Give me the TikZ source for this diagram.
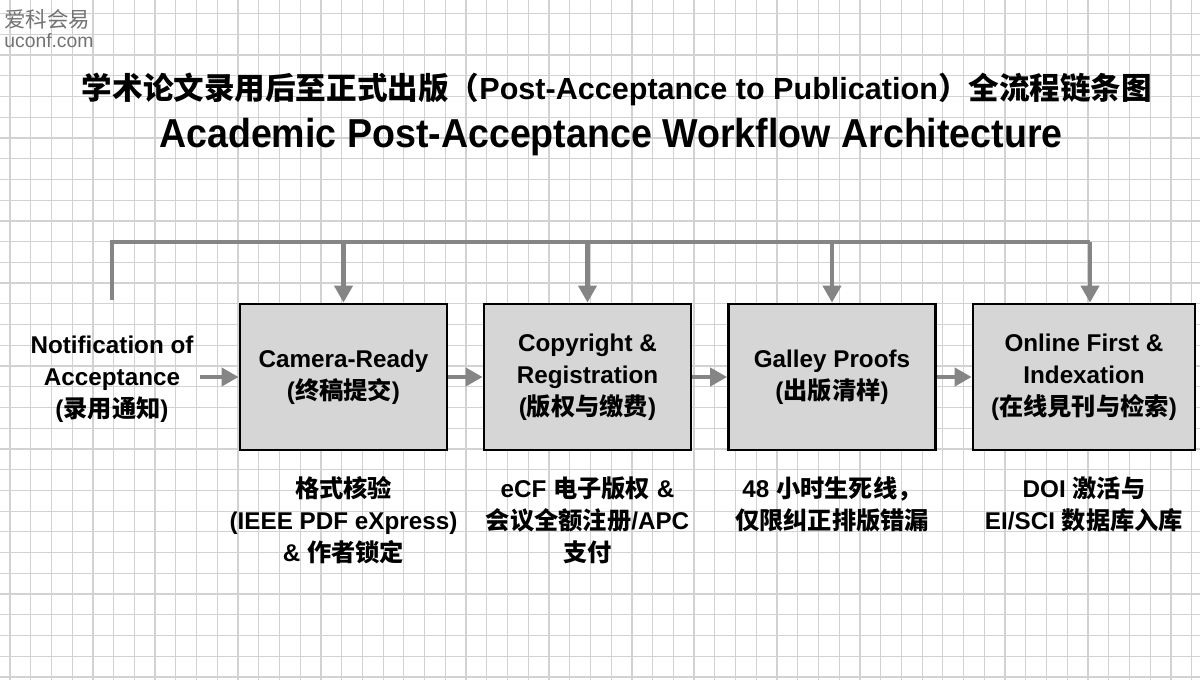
\documentclass[tikz,border=0pt]{standalone}
\usepackage{fontspec}
\setmainfont{Liberation Sans}
\newfontfamily\zhfont{Noto Sans CJK SC}
\usepackage{xcolor}
\usetikzlibrary{arrows.meta, positioning, calc}

\definecolor{boxgray}{HTML}{D6D6D6}
\definecolor{flowgray}{HTML}{858585}
\definecolor{gridgray}{HTML}{D2D2D2}

\begin{document}
\begin{tikzpicture}[
    x=0.02cm, y=-0.02cm,
    font=\bfseries\fontsize{13.8}{18.2}\selectfont,
    stage/.style={draw=black, line width=1.6pt, fill=boxgray, align=center, minimum width=4.14cm, minimum height=2.92cm},
    note/.style={align=center, inner sep=0pt},
    stamp/.style={anchor=west, inner sep=0pt, text=black!55},
    flow/.style={draw=flowgray, line width=2.3pt, -{Triangle[length=0.34cm, width=0.36cm]}},
    bus/.style={draw=flowgray, line width=2.3pt},
    gridline/.style={draw=gridgray, line width=0.7pt}
]

    % Paper and grid
    \fill[white] (0,0) rectangle (1200,680);
    \useasboundingbox (0,0) rectangle (1200,680);
    \foreach \i in {0,...,57} {
        \draw[gridline] (10+\i*20.73,0) -- (10+\i*20.73,680);
    }
    \foreach \j in {0,...,32} {
        \draw[gridline] (0,13.6+\j*20.73) -- (1200,13.6+\j*20.73);
    }

    % Watermark
    \node[stamp, font=\fontsize{12.2}{13}\selectfont\zhfont] (stampzh) at (4,19) {爱科会易};
    \node[stamp, font=\fontsize{11}{13}\selectfont] (stampurl) at (4,41) {uconf.com};

    % Titles
    \node[font=\bfseries\fontsize{17.4}{20}\selectfont] (titlezh) at (617,89)
        {{\zhfont 学术论文录用后至正式出版（}Post-Acceptance to Publication{\zhfont ）全流程链条图}};
    \node[xscale=0.93, transform shape, font=\bfseries\fontsize{23}{26}\selectfont] (titleen) at (611,137)
        {Academic Post-Acceptance Workflow Architecture};

    % Start
    \node[align=center] (notice) at (112,379) {Notification of\\Acceptance\\({\zhfont 录用通知})};

    % Stages
    \node[stage] (ready) at (343.5,377) {Camera-Ready\\({\zhfont 终稿提交})};
    \node[stage] (copyright) at (587.5,377) {Copyright \&\\Registration\\({\zhfont 版权与缴费})};
    \node[stage] (galley) at (832,377) {Galley Proofs\\({\zhfont 出版清样})};
    \node[stage, minimum width=4.44cm] (online) at (1084,377) {Online First \&\\Indexation\\({\zhfont 在线見刊与检索})};

    % Notes under the stages
    \node[note, below=0.5cm of ready] (readynote) {{\zhfont 格式核验}\\(IEEE PDF eXpress)\\\& {\zhfont 作者锁定}};
    \node[note, below=0.5cm of copyright] (copynote) {eCF {\zhfont 电子版权} \&\\{\zhfont 会议全额注册}/APC\\{\zhfont 支付}};
    \node[note, below=0.5cm of galley] (galleynote) {48 {\zhfont 小时生死线，}\\{\zhfont 仅限纠正排版错漏}};
    \node[note, below=0.5cm of online] (onlinenote) {DOI {\zhfont 激活与}\\EI/SCI {\zhfont 数据库入库}};

    % Main flow
    \draw[flow] (notice.east |- ready.west) -- (ready.west);
    \draw[flow] (ready) -- (copyright);
    \draw[flow] (copyright) -- (galley);
    \draw[flow] (galley) -- (online);

    % Feedback bus
    \coordinate (busstart) at (112,300);
    \coordinate (busleft) at (112,242);
    \draw[bus] (busstart) -- (busleft) -- ($(busleft -| online.north)+(6,0)$);
    \foreach \stg in {ready, copyright, galley} {
        \draw[flow] (busleft -| \stg.north) -- (\stg.north);
    }
    \draw[flow] ($(busleft -| online.north)+(6,0)$) -- ($(online.north)+(6,0)$);

\end{tikzpicture}
\end{document}
